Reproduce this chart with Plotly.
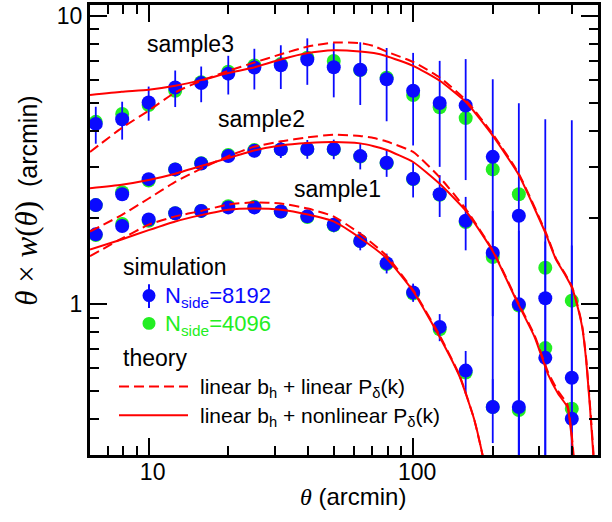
import plotly.graph_objects as go

# ---------------- simulation measurements ----------------
theta_bins = [6.31, 7.94, 10.0, 12.6, 15.8, 20.0, 25.1, 31.6, 39.8, 50.1,
              63.1, 79.4, 100.0, 126.0, 158.0, 200.0, 251.0, 316.0, 398.0]

# sample3
s3_8192 = [4.23, 4.39, 5.02, 5.66, 5.86, 6.32, 6.64, 6.76, 7.08, 6.65,
           6.52, 6.04, 5.51, 5.00, 4.90, 3.25, 2.03, 1.05, 0.556]
s3_err = [0.62, 0.66, 0.68, 0.82, 0.83, 0.97, 1.07, 1.17, 1.30, 1.42,
          1.60, 1.72, 1.95, 2.00, 2.20, 2.79, 2.96, 3.34, 3.80]
s3_4096 = [4.30, 4.58, 4.92, 5.51, 5.90, 6.42, 6.75, 6.82, 7.18, 6.99,
           6.50, 6.12, 5.33, 4.83, 4.43, 2.94, 2.41, 1.34, 1.03]

# sample2
s2_8192 = [2.21, 2.41, 2.72, 2.94, 3.08, 3.27, 3.41, 3.45, 3.46, 3.46,
           3.27, 3.10, 2.73, 2.41, 1.95, 1.51, 1.00, 0.652, 0.401]
s2_err = [0.08, 0.09, 0.10, 0.11, 0.12, 0.14, 0.17, 0.23, 0.26, 0.27,
          0.33, 0.33, 0.38, 0.40, 0.41, 0.60, 0.80, 1.00, 1.20]
s2_4096 = [2.21, 2.45, 2.69, 2.94, 3.09, 3.30, 3.43, 3.45, 3.46, 3.45,
           3.26, 3.09, 2.72, 2.40, 1.93, 1.46, 0.99, 0.705, 0.434]

# sample1
s1_8192 = [1.75, 1.87, 1.97, 2.07, 2.11, 2.17, 2.17, 2.10, 2.02, 1.89,
           1.66, 1.39, 1.10, 0.835, 0.589, 0.44, 0.44]
s1_err = [0.04, 0.05, 0.05, 0.06, 0.06, 0.07, 0.08, 0.09, 0.10, 0.11,
          0.12, 0.11, 0.08, 0.09, 0.10, 0.11, 0.15]
s1_4096 = [1.74, 1.90, 1.95, 2.07, 2.11, 2.19, 2.18, 2.10, 2.01, 1.88,
           1.66, 1.38, 1.09, 0.82, 0.58, 0.44, 0.43]

# ---------------- theory curves ----------------
th3 = [6, 7.9, 10, 12.6, 15.8, 20, 25, 31.6, 40, 50, 63, 71, 79, 100, 126,
       159, 200, 251, 318, 347, 375, 399, 420, 436, 451, 467, 479, 492]
s3_nonlin = [5.33, 5.47, 5.56, 5.74, 6.00, 6.35, 6.64, 7.08, 7.45, 7.62, 7.55,
             7.45, 7.28, 6.73, 5.97, 5.02, 3.85, 2.81, 1.75, 1.43, 1.27, 1.14,
             0.97, 0.83, 0.64, 0.43, 0.31, 0.21]
s3_lin = [3.38, 4.09, 4.70, 5.44, 5.97, 6.46, 6.90, 7.38, 7.85, 8.10, 8.07,
          7.88, 7.55, 6.94, 6.13, 5.09, 3.90, 2.84, 1.77, 1.44, 1.28, 1.15,
          0.98, 0.84, 0.65, 0.44, 0.32, 0.21]

th2 = [6, 7.9, 10, 12.6, 15.8, 20, 25, 31.6, 40, 50, 63, 71, 79, 100, 126,
       159, 200, 246, 288, 324, 353, 383, 397, 403, 420]
s2_nonlin = [2.53, 2.60, 2.70, 2.84, 3.02, 3.22, 3.42, 3.56, 3.63, 3.66, 3.62,
             3.54, 3.44, 3.12, 2.62, 2.10, 1.53, 1.03, 0.77, 0.57, 0.49, 0.44,
             0.35, 0.30, 0.20]
s2_lin = [1.79, 2.04, 2.33, 2.66, 2.96, 3.27, 3.52, 3.68, 3.80, 3.88, 3.84,
          3.78, 3.68, 3.38, 2.76, 2.13, 1.54, 1.04, 0.78, 0.58, 0.50, 0.45,
          0.36, 0.31, 0.20]

th1 = [6, 7.9, 10, 12.6, 15.8, 20, 25, 31.6, 40, 50, 63, 79, 100, 126, 150,
       170, 183, 195]
s1_nonlin = [1.55, 1.68, 1.81, 1.94, 2.04, 2.13, 2.15, 2.13, 2.05, 1.94, 1.70,
             1.45, 1.11, 0.77, 0.56, 0.40, 0.30, 0.22]
s1_lin = [1.47, 1.69, 1.89, 2.02, 2.11, 2.22, 2.26, 2.24, 2.15, 2.02, 1.76,
          1.48, 1.12, 0.78, 0.565, 0.40, 0.30, 0.22]

x_major = [10, 100]
x_minor = [6, 7, 8, 9, 20, 30, 40, 50, 60, 70, 80, 90, 200, 300, 400]
y_major = [1, 10]
y_minor = [0.4, 0.5, 0.6, 0.7, 0.8, 0.9, 2, 3, 4, 5, 6, 7, 8, 9]

BLUE = "#0a0aff"
GREEN = "#22ee22"
RED = "#ff0000"
SANS = "Liberation Sans, Arial, sans-serif"

fig = go.Figure()

# Nside=4096 points (underneath)
for ys in (s3_4096, s2_4096, s1_4096):
    fig.add_trace(go.Scatter(
        x=theta_bins[:len(ys)], y=ys, mode="markers",
        marker=dict(color=GREEN, size=14, line=dict(width=0)),
        showlegend=False, hoverinfo="skip"))

# Nside=8192 points with error bars
for ys, es in ((s3_8192, s3_err), (s2_8192, s2_err), (s1_8192, s1_err)):
    fig.add_trace(go.Scatter(
        x=theta_bins[:len(ys)], y=ys, mode="markers",
        marker=dict(color=BLUE, size=14, line=dict(width=0)),
        error_y=dict(type="data", array=es, symmetric=True,
                     color=BLUE, thickness=1.8, width=0),
        showlegend=False, hoverinfo="skip"))

# theory lines
for th, lin, nl in ((th3, s3_lin, s3_nonlin), (th2, s2_lin, s2_nonlin),
                    (th1, s1_lin, s1_nonlin)):
    fig.add_trace(go.Scatter(
        x=th, y=lin, mode="lines",
        line=dict(color=RED, width=2, dash="10px,5px", shape="spline",
                  smoothing=0.5),
        showlegend=False, hoverinfo="skip"))
    fig.add_trace(go.Scatter(
        x=th, y=nl, mode="lines",
        line=dict(color=RED, width=2, shape="spline", smoothing=0.5),
        showlegend=False, hoverinfo="skip"))

# plot area in pixels: x 90..598, y 2..455
L, R, T, B = 90, 598, 2, 455
W, H = R - L, B - T


def px(x):
    return (x - L) / W


def py(y):
    return (B - y) / H


annotations = []


def label(text, x, y, size, color="black", xanchor="center", angle=0):
    annotations.append(dict(
        text=text, x=px(x), y=py(y), xref="paper", yref="paper",
        xanchor=xanchor, yanchor="middle", showarrow=False, textangle=angle,
        font=dict(family=SANS, size=size, color=color)))


# curve labels
label("sample3", 190, 41, 23)
label("sample2", 261, 117, 23)
label("sample1", 337, 187, 23)

# legend block
label("simulation", 121, 266, 23, xanchor="left")
label("N<sub>side</sub>=8192", 163, 296, 22, color=BLUE, xanchor="left")
label("N<sub>side</sub>=4096", 163, 324, 22, color=GREEN, xanchor="left")
label("theory", 121, 357, 23, xanchor="left")
label("linear b<sub>h</sub> + linear P<sub>δ</sub>(k)", 198, 388, 21,
      xanchor="left")
label("linear b<sub>h</sub> + nonlinear P<sub>δ</sub>(k)", 198, 417, 21,
      xanchor="left")


def math(s, italic=True, size=None):
    style = "font-family:Liberation Serif"
    if italic:
        style += ";font-style:italic"
    if size:
        style += ";font-size:%dpx" % size
    return "<span style='%s'>%s</span>" % (style, s)


# axis titles
annotations.append(dict(
    text=math("θ") + " (arcmin)",
    x=px(353), y=py(497), xref="paper", yref="paper", xanchor="center",
    yanchor="middle", showarrow=False,
    font=dict(family=SANS, size=24, color="black")))
annotations.append(dict(
    text=(math("θ", size=31) + math(" × ", italic=False, size=31)
          + math("w", size=31) + math("(", italic=False, size=31)
          + math("θ", size=31) + math(")", italic=False, size=31)
          + "  (arcmin)"),
    x=px(27), y=py(199), xref="paper", yref="paper", xanchor="center",
    yanchor="middle", showarrow=False, textangle=-90,
    font=dict(family=SANS, size=25, color="black")))

shapes = [
    # legend keys
    dict(type="line", xref="paper", yref="paper", x0=px(149), x1=px(149),
         y0=py(283), y1=py(307), line=dict(color=BLUE, width=2)),
    dict(type="circle", xref="paper", yref="paper", x0=px(142.5), x1=px(155.5),
         y0=py(301), y1=py(288), fillcolor=BLUE, line=dict(width=0)),
    dict(type="circle", xref="paper", yref="paper", x0=px(142.5), x1=px(155.5),
         y0=py(329), y1=py(316), fillcolor=GREEN, line=dict(width=0)),
    dict(type="line", xref="paper", yref="paper", x0=px(119), x1=px(188),
         y0=py(386), y1=py(386),
         line=dict(color=RED, width=2, dash="10px,5px")),
    dict(type="line", xref="paper", yref="paper", x0=px(119), x1=px(188),
         y0=py(415), y1=py(415), line=dict(color=RED, width=2)),
]

axis_common = dict(
    type="log", showgrid=False, zeroline=False, showline=True,
    linecolor="black", linewidth=3, mirror="allticks", ticks="inside",
    ticklen=17, tickwidth=2, tickcolor="black", tickmode="array",
    tickfont=dict(family=SANS, size=23, color="black"),
)

fig.update_layout(
    width=612, height=522,
    margin=dict(l=L, r=612 - R, t=T, b=522 - B),
    paper_bgcolor="white", plot_bgcolor="white",
    showlegend=False,
    xaxis=dict(axis_common, range=[0.7782, 2.699], tickvals=x_major,
               ticktext=[str(v) for v in x_major],
               ticklabelstandoff=-6, ticklabelshift=4,
               minor=dict(tickmode="array", tickvals=x_minor, ticklen=9,
                          tickwidth=2, tickcolor="black", ticks="inside",
                          showgrid=False)),
    yaxis=dict(axis_common, range=[-0.5229, 1.039], tickvals=y_major,
               ticktext=[str(v) for v in y_major],
               minor=dict(tickmode="array", tickvals=y_minor, ticklen=9,
                          tickwidth=2, tickcolor="black", ticks="inside",
                          showgrid=False)),
    annotations=annotations,
    shapes=shapes,
)

fig.write_html("out.html")
